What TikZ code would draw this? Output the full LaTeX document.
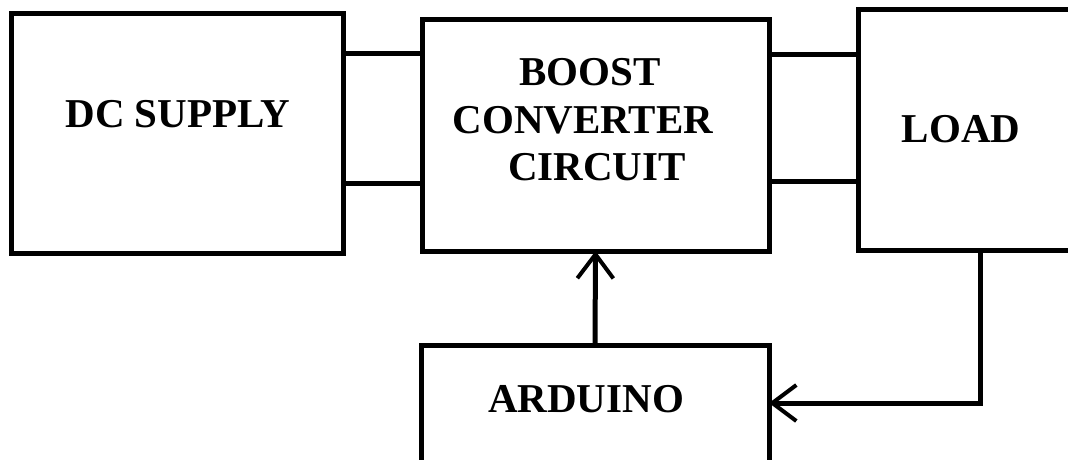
\documentclass[tikz,border=0pt]{standalone}
\usepackage{fontspec}
\setmainfont{Liberation Serif}
\usetikzlibrary{arrows.meta}
\begin{document}
\begin{tikzpicture}[x=1pt,y=-1pt,
  blk/.style={draw,line width=5pt,inner sep=0pt,outer sep=0pt,anchor=north west},
  lbl/.style={font=\fontsize{41}{48}\selectfont\bfseries,inner sep=0pt,anchor=base},
  wire/.style={line width=5pt},
  arr/.style={line width=5pt,-{Straight Barb[length=24pt,width=36pt,line width=4pt]}}]
\useasboundingbox (0,0) rectangle (1068,459);
\clip (0,0) rectangle (1068,459);
\fill[white] (0,0) rectangle (1068,459);
\node[blk,minimum width=332pt,minimum height=240pt] (dc) at (11,13) {};
\node[blk,minimum width=347pt,minimum height=232pt] (boost) at (422,19) {};
\node[blk,minimum width=240pt,minimum height=241pt] (load) at (858,9) {};
\node[blk,minimum width=348pt,minimum height=140pt] (ard) at (421,345) {};
\node[lbl] (tdc) at (178,127) {DC SUPPLY};
\node[lbl] (tb1) at (590,85) {BOOST};
\node[lbl] (tb2) at (583,133) {CONVERTER};
\node[lbl] (tb3) at (597,180) {CIRCUIT};
\node[lbl] (tload) at (961,142) {LOAD};
\node[lbl] (tard) at (586,412) {ARDUINO};
\draw[wire] (dc.east |- 0,53) -- (boost.west |- 0,53);
\draw[wire] (dc.east |- 0,183) -- (boost.west |- 0,183);
\draw[wire] (boost.east |- 0,54) -- (load.west |- 0,54);
\draw[wire] (boost.east |- 0,181) -- (load.west |- 0,181);
\draw[arr] (ard.north) -- (boost.south);
\draw[arr] (load.south -| 980,0) |- (ard.east |- 0,403);
\end{tikzpicture}
\end{document}
